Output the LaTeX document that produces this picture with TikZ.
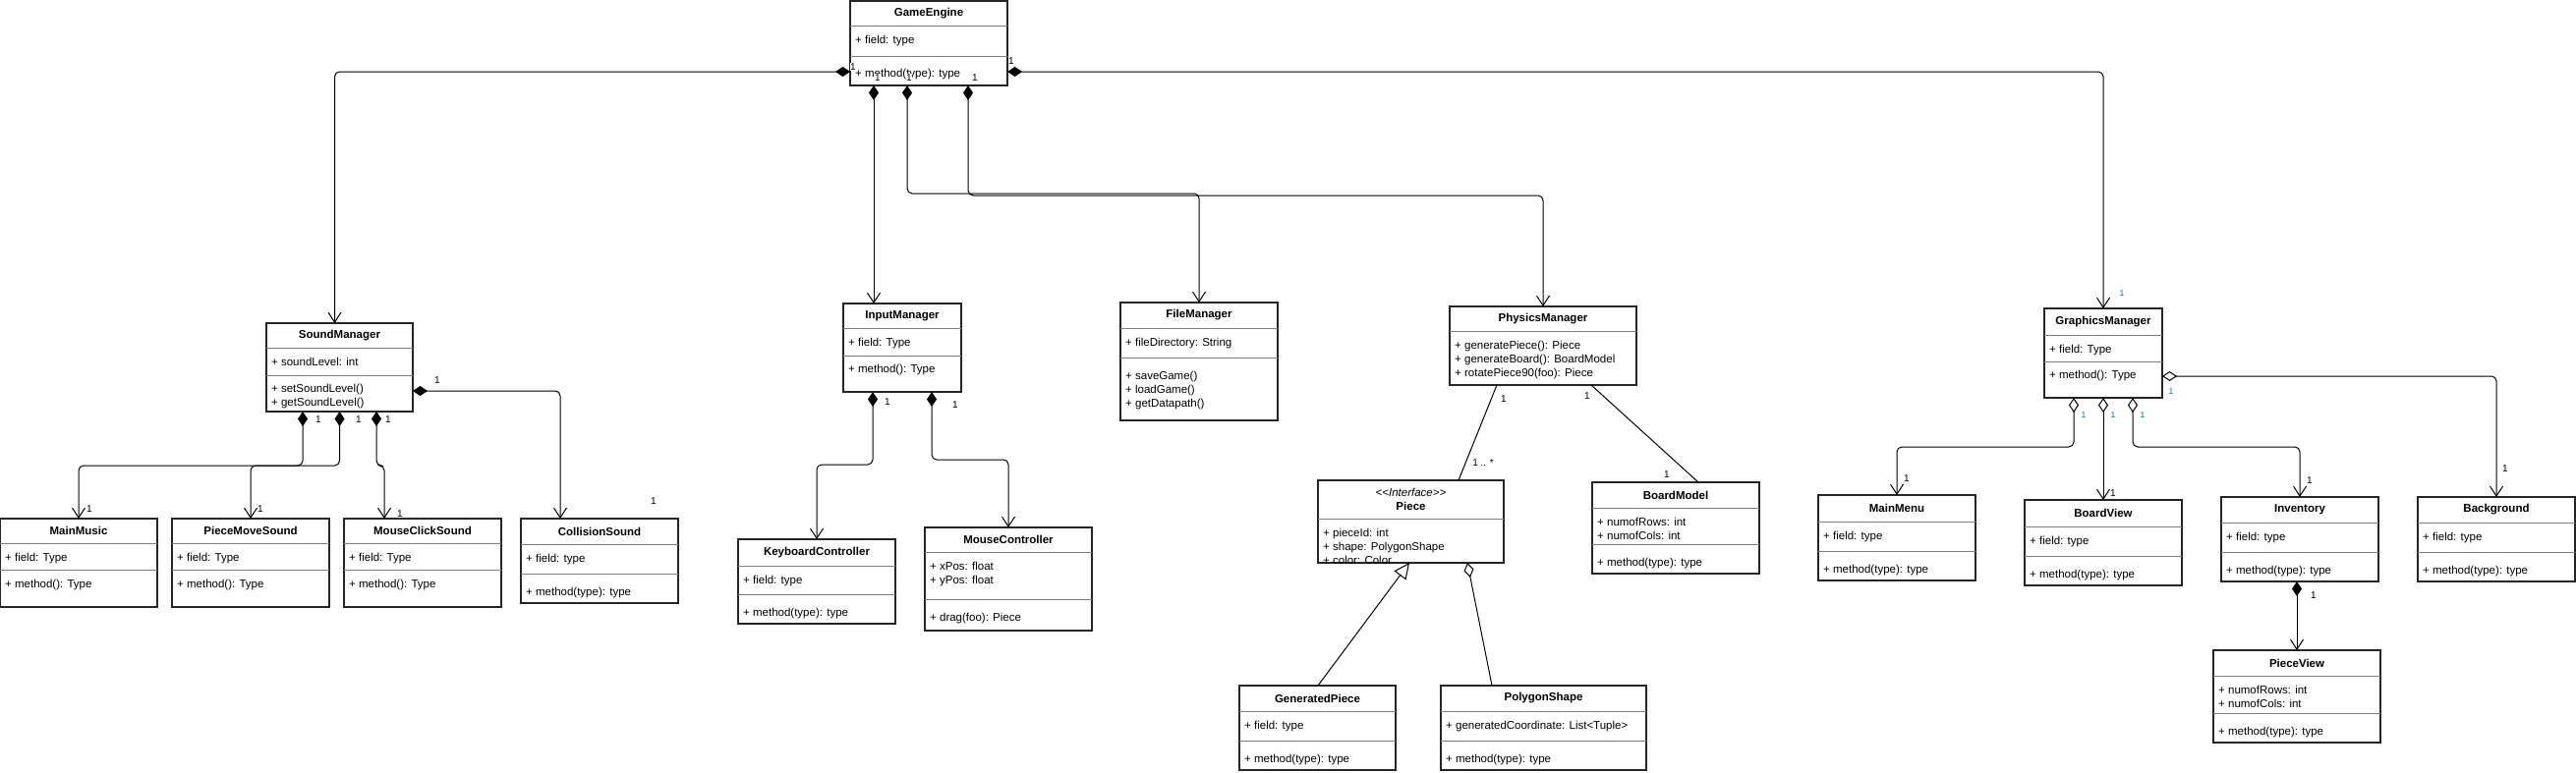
\documentclass[tikz,border=0pt]{standalone}
\usepackage{fontspec}
\setmainfont{Liberation Sans}
\usetikzlibrary{arrows.meta}
\usetikzlibrary{positioning,fit,calc}
\definecolor{linkblue}{RGB}{0,102,170}

% class box: name, top left, size, first rule, second rule, gap, title, fields, methods
\newcommand{\umlclass}[9]{%
   \node[classbox, fit={(#2) ($(#2)+(#3)$)}] (#1) {};
   \node[classtitle] (#1-title) at ($(#1.north)+(0,#4/2)$) {#7};
   \draw[rule] ($(#1.north west)+(0,#4)$) -- ($(#1.north east)+(0,#4)$);
   \node[members] (#1-fields) at ($(#1.north west)+(5,#4+8.2)$) {\strut#8};
   \ifx\relax#5\relax\else
      \draw[rule] ($(#1.north west)+(0,#5)$) -- ($(#1.north east)+(0,#5)$);
      \node[members] (#1-methods) at ($(#1.north west)+(5,#5+#6-5.8)$) {\strut#9};
   \fi
}

\begin{document}
\begin{tikzpicture}[x=1pt, y=-1pt,
         every node/.style = {font=\fontsize{11.5}{14}\selectfont},
         classbox/.style = {draw=black!85, line width=1.2pt, inner sep=0pt, outer sep=0pt},
         classtitle/.style = {font=\fontsize{11.5}{14}\selectfont\bfseries, inner sep=0pt, align=center},
         members/.style = {anchor=north west, inner sep=0pt, align=left},
         rule/.style = {draw=black!50, line width=1pt},
         assoc/.style = {line width=1pt, rounded corners=5pt},
         compo/.style = {assoc, arrows={Diamond[length=15pt,width=10pt]-Straight Barb[length=10pt,width=13pt]}},
         aggr/.style = {assoc, arrows={Diamond[open,length=15pt,width=10pt]-Straight Barb[length=10pt,width=13pt]}},
         mult/.style = {font=\fontsize{10}{12}\selectfont, inner sep=0.5pt, fill=white},
         multb/.style = {mult, font=\fontsize{8.5}{10}\selectfont, text=linkblue}
]
   \useasboundingbox (0,0) rectangle (2621,787);

   % engine and managers
   \umlclass{ge}{865,1}{160,86}{25}{56}{17}{GameEngine}{+ field: type}{+ method(type): type}
   \umlclass{sound}{271,329}{149,90}{25}{53}{13}{SoundManager}{+ soundLevel: int}
      {+ setSoundLevel()\\+ getSoundLevel()}
   \umlclass{input}{858,309}{120,90}{25}{53}{13}{InputManager}{+ field: Type}{+ method(): Type}
   \umlclass{file}{1140,308}{160,120}{26}{56}{18}{FileManager}{+ fileDirectory: String}
      {+ saveGame()\\+ loadGame()\\+ getDatapath()}
   \umlclass{physics}{1475,312}{190,80}{25}{}{}{PhysicsManager}
      {+ generatePiece(): Piece\\+ generateBoard(): BoardModel\\+ rotatePiece90(foo): Piece}{}
   \umlclass{graphics}{2080,314}{120,91}{27}{54}{13}{GraphicsManager}{+ field: Type}{+ method(): Type}

   % sound
   \umlclass{mainmusic}{0,528}{160,90}{25}{52}{14}{MainMusic}{+ field: Type}{+ method(): Type}
   \umlclass{piecemove}{175,528}{160,90}{25}{52}{14}{PieceMoveSound}{+ field: Type}{+ method(): Type}
   \umlclass{mouseclick}{350,528}{160,90}{25}{52}{14}{MouseClickSound}{+ field: Type}{+ method(): Type}
   \umlclass{collision}{530,528}{160,86}{26}{56}{18}{CollisionSound}{+ field: type}{+ method(type): type}

   % input
   \umlclass{keyboard}{751,549}{160,86}{27}{56}{18}{KeyboardController}{+ field: type}{+ method(type): type}
   \umlclass{mouse}{941,537}{170,105}{25}{73}{18}{MouseController}{+ xPos: float\\+ yPos: float}
      {+ drag(foo): Piece}

   % physics
   \begin{scope}
      \clip (1330,480) rectangle (1540,574);
      \umlclass{piece}{1341,489}{189,84}{39}{}{}{{\mdseries\itshape <{}<Interface>{}>}\\Piece}
         {+ pieceId: int\\+ shape: PolygonShape\\+ color: Color}{}
   \end{scope}
   \umlclass{board}{1620,491}{170,93}{26}{63}{18}{BoardModel}{+ numofRows: int\\+ numofCols: int}
      {+ method(type): type}
   \umlclass{genpiece}{1261,698}{159,86}{26}{56}{18}{GeneratedPiece}{+ field: type}{+ method(type): type}
   \umlclass{polygon}{1466,698}{209,86}{26}{56}{18}{PolygonShape}
      {+ generatedCoordinate: List<Tuple>}{+ method(type): type}

   % graphics
   \umlclass{mainmenu}{1850,504}{160,87}{27}{57}{18}{MainMenu}{+ field: type}{+ method(type): type}
   \umlclass{boardview}{2060,509}{160,87}{27}{57}{18}{BoardView}{+ field: type}{+ method(type): type}
   \umlclass{inventory}{2260,506}{160,86}{26}{56}{18}{Inventory}{+ field: type}{+ method(type): type}
   \umlclass{background}{2460,506}{160,86}{26}{56}{18}{Background}{+ field: type}{+ method(type): type}
   \umlclass{pieceview}{2252,662}{170,94}{26}{64}{18}{PieceView}{+ numofRows: int\\+ numofCols: int}
      {+ method(type): type}

   % game engine links
   \draw[compo] ($(ge.south west)+(0,-14)$) -| ($(sound.north)+(-5,0)$);
   \draw[compo] ($(ge.south west)+(24,0)$) -- ($(input.north west)+(31,0)$);
   \draw[compo] ($(ge.south west)+(58,0)$) |- ($(file.north)+(0,-111)$) -- (file.north);
   \draw[compo] ($(ge.south west)+(120,0)$) |- ($(physics.north)+(0,-113)$) -- (physics.north);
   \draw[compo] ($(ge.south east)+(0,-14)$) -| (graphics.north);
   \node[mult] (ge-m1) at (868,68) {1};
   \node[mult] (ge-m2) at (893,79) {1};
   \node[mult] (ge-m3) at (925,79) {1};
   \node[mult] (ge-m4) at (992,79) {1};
   \node[mult] (ge-m5) at (1029,62) {1};
   \node[multb] (ge-m6) at (2159,299) {1};

   % sound links
   \draw[compo] ($(sound.south west)+(37,0)$) |- ($(mainmusic.north)+(0,-54)$) -- (mainmusic.north);
   \draw[compo] (sound.south) |- ($(piecemove.north)+(0,-54)$) -- (piecemove.north);
   \draw[compo] ($(sound.south west)+(112,0)$) |- ($(mouseclick.north west)+(41,-54)$)
      -- ($(mouseclick.north west)+(41,0)$);
   \draw[compo] ($(sound.south east)+(0,-21)$) -| ($(collision.north west)+(40,0)$);
   \node[mult] (sound-m1) at (324,427) {1};
   \node[mult] (sound-m2) at (365,427) {1};
   \node[mult] (sound-m3) at (395,427) {1};
   \node[mult] (sound-m4) at (445,387) {1};
   \node[mult] (sound-m5) at (91,518) {1};
   \node[mult] (sound-m6) at (265,518) {1};
   \node[mult] (sound-m7) at (407,523) {1};
   \node[mult] (sound-m8) at (665,510) {1};

   % input links
   \draw[compo] ($(input.south west)+(30,0)$) |- ($(keyboard.north)+(0,-76)$) -- (keyboard.north);
   \draw[compo] ($(input.south west)+(90,0)$) |- ($(mouse.north)+(0,-69)$) -- (mouse.north);
   \node[mult] (input-m1) at (903,409) {1};
   \node[mult] (input-m2) at (972,412) {1};

   % physics links
   \draw[assoc] ($(physics.south west)+(48,0)$) -- ($(piece.north west)+(143,0)$);
   \draw[assoc] ($(physics.south west)+(144,0)$) -- ($(board.north west)+(108,0)$);
   \draw[line width=1pt, -{Triangle[open,length=16pt,width=15pt]}]
      ($(genpiece.north west)+(80,0)$) -- ($(piece.south west)+(93,0)$);
   \draw[line width=1pt, {Diamond[open,length=15pt,width=10pt]}-]
      ($(piece.south west)+(152,0)$) -- ($(polygon.north west)+(52,0)$);
   \node[mult] (physics-m1) at (1530,406) {1};
   \node[mult] (physics-m2) at (1509,471) {1 .. *};
   \node[mult] (physics-m3) at (1615,403) {1};
   \node[mult] (physics-m4) at (1696,483) {1};

   % graphics links
   \draw[aggr] ($(graphics.south west)+(30,0)$) |- ($(mainmenu.north)+(0,-49)$) -- (mainmenu.north);
   \draw[aggr] (graphics.south) -- (boardview.north);
   \draw[aggr] ($(graphics.south west)+(90,0)$) |- ($(inventory.north)+(0,-51)$) -- (inventory.north);
   \draw[aggr] ($(graphics.south east)+(0,-22)$) -| (background.north);
   \draw[compo] ($(inventory.south)+(-3,0)$) -- (pieceview.north);
   \node[multb] (graphics-m1) at (2120,423) {1};
   \node[multb] (graphics-m2) at (2150,423) {1};
   \node[multb] (graphics-m3) at (2180,423) {1};
   \node[multb] (graphics-m4) at (2209,399) {1};
   \node[mult] (graphics-m5) at (1940,487) {1};
   \node[mult] (graphics-m6) at (2150,502) {1};
   \node[mult] (graphics-m7) at (2350,489) {1};
   \node[mult] (graphics-m8) at (2549,477) {1};
   \node[mult] (inventory-m1) at (2354,606) {1};
\end{tikzpicture}
\end{document}
